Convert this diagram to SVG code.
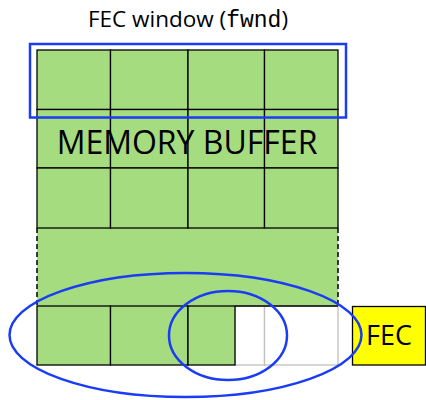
<svg xmlns="http://www.w3.org/2000/svg" width="426" height="400" viewBox="0 0 426 400">
<style>
.cell{fill:#a6dc80;stroke:#000;stroke-width:1.3}
.empty{fill:#fff;stroke:#c0c0c0;stroke-width:1.3}
.blue{fill:none;stroke:#1a3cf5;stroke-width:2.5}
.t{font-family:"Open Sans","Liberation Sans",sans-serif;fill:#000}
</style>
<rect width="426" height="400" fill="#fff"/>
<text class="t" x="188" y="27" font-size="22.5" text-anchor="middle">FEC window (<tspan font-family="'Liberation Mono',monospace" font-size="23">fwnd</tspan>)</text>
<g id="memory-buffer">
<rect x="37" y="50" width="301" height="256" fill="#a6dc80"/>
<rect class="cell" x="37" y="50" width="73.5" height="59.5"/>
<rect class="cell" x="110.5" y="50" width="77.5" height="59.5"/>
<rect class="cell" x="188" y="50" width="76.5" height="59.5"/>
<rect class="cell" x="264.5" y="50" width="73.5" height="59.5"/>
<rect class="cell" x="37" y="109.5" width="73.5" height="58.5"/>
<rect class="cell" x="110.5" y="109.5" width="77.5" height="58.5"/>
<rect class="cell" x="188" y="109.5" width="76.5" height="58.5"/>
<rect class="cell" x="264.5" y="109.5" width="73.5" height="58.5"/>
<rect class="cell" x="37" y="168" width="73.5" height="60"/>
<rect class="cell" x="110.5" y="168" width="77.5" height="60"/>
<rect class="cell" x="188" y="168" width="76.5" height="60"/>
<rect class="cell" x="264.5" y="168" width="73.5" height="60"/>
<line x1="37" y1="228" x2="37" y2="306" stroke="#000" stroke-width="1.5" stroke-dasharray="5,3"/>
<line x1="338" y1="228" x2="338" y2="306" stroke="#000" stroke-width="1.5" stroke-dasharray="5,3"/>
<text class="t" x="187" y="154" font-size="32" text-anchor="middle">MEMORY BUFFER</text>
</g>
<g id="bottom-row">
<rect class="empty" x="235" y="306" width="29.5" height="59"/>
<rect class="empty" x="264.5" y="306" width="73.5" height="59"/>
<rect class="cell" x="37" y="306" width="73.5" height="59"/>
<rect class="cell" x="110.5" y="306" width="77.5" height="59"/>
<rect class="cell" x="188" y="306" width="47" height="59"/>
<line x1="235" y1="306" x2="338" y2="306" stroke="#000" stroke-width="1.3"/>
</g>
<g id="fec">
<rect x="352.5" y="306.5" width="73" height="58.5" fill="#ffff00" stroke="#000" stroke-width="1.3"/>
<text class="t" x="389" y="345" font-size="27" text-anchor="middle">FEC</text>
</g>
<g id="highlights">
<rect class="blue" x="30" y="44" width="316" height="73.5"/>
<ellipse class="blue" cx="185.5" cy="335" rx="176" ry="62"/>
<ellipse class="blue" cx="228" cy="335.5" rx="59" ry="44.5"/>
</g>
</svg>
